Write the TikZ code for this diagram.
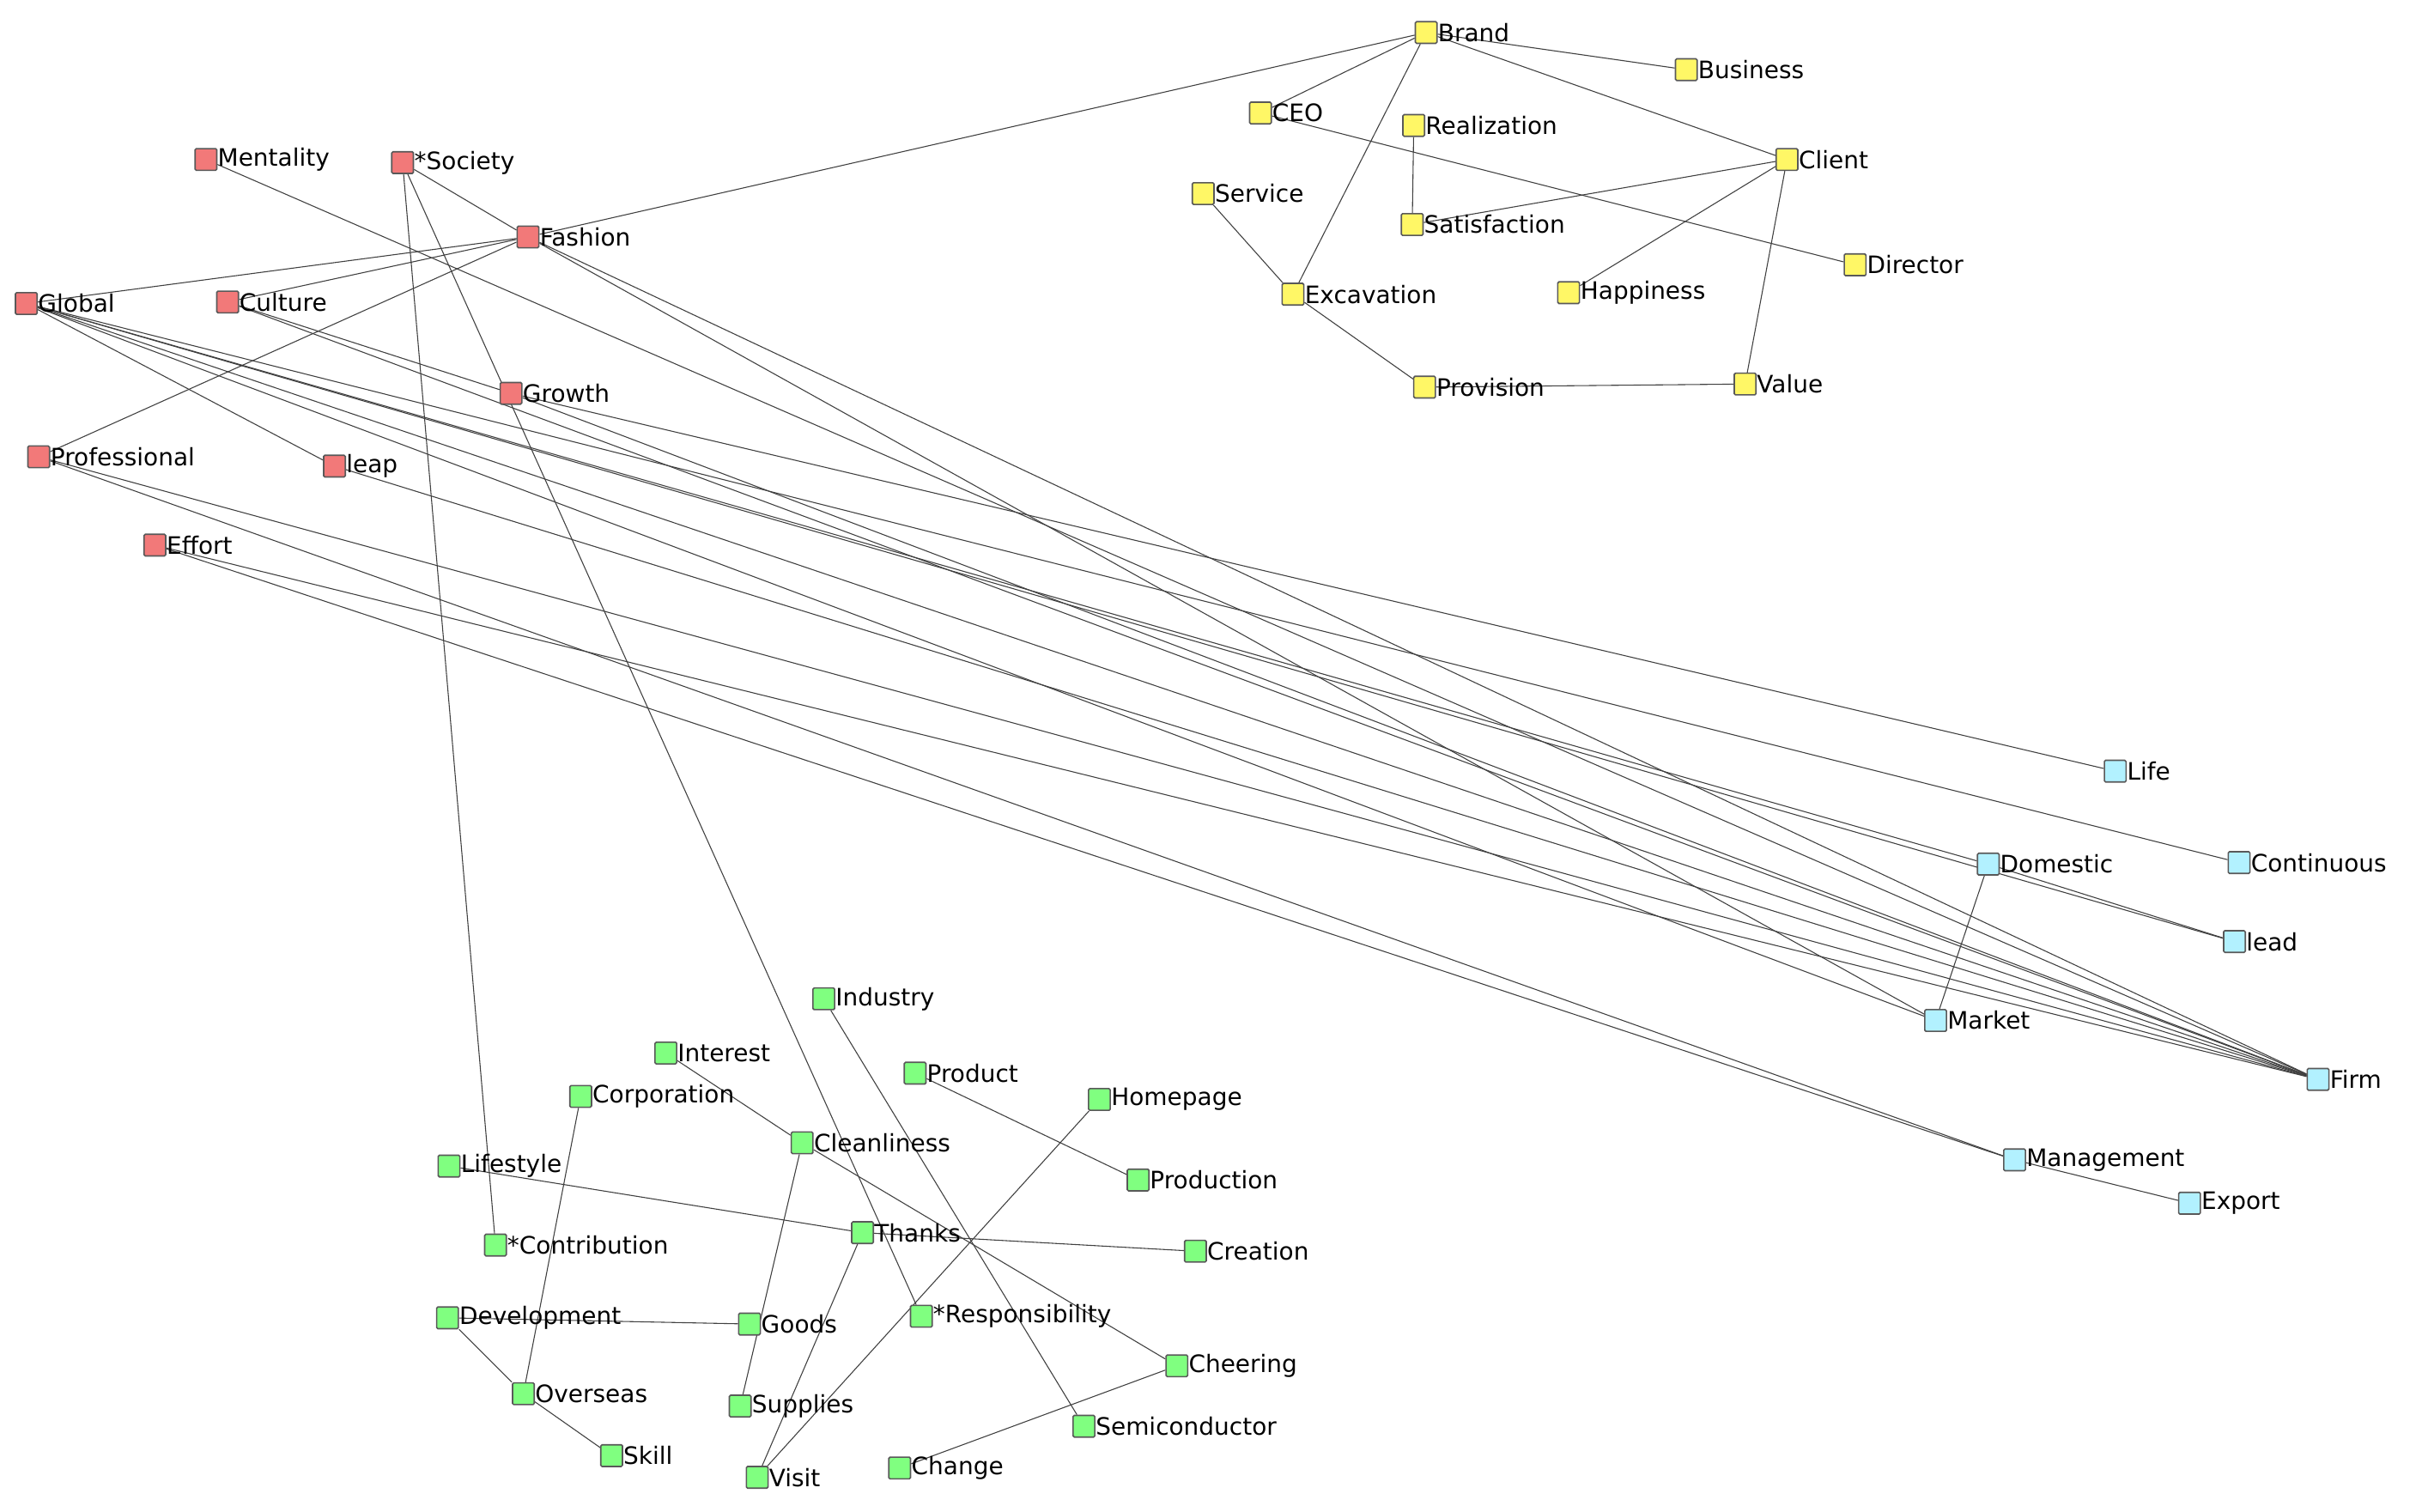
\documentclass[tikz,border=0pt]{standalone}
\usepackage{fontspec}
\setmainfont{DejaVu Sans}
\usetikzlibrary{backgrounds}
\begin{document}
\begin{tikzpicture}[x=1pt,y=-1pt,
  sq/.style={draw=black!65,line width=0.9pt,minimum size=14pt,inner sep=0pt,rounded corners=0.8pt},
  lab/.style={label={[anchor=west,inner sep=1pt,font=\fontsize{15.5}{17}\selectfont,xshift=-1pt]east:#1}},
  R/.style={sq,fill=red!50!white!95!black,lab=#1},
  Y/.style={sq,fill=yellow!60!white,lab=#1},
  B/.style={sq,fill=blue!30!cyan!20!white!95!black,fill=blue!18!cyan!30!white,lab=#1},
  G/.style={sq,fill=green!50!white,lab=#1},
  e/.style={draw=black!75,line width=0.6pt}]
\useasboundingbox (0,0) rectangle (1568,976);
% yellow
\node[Y=Brand] (brand) at (921,21) {};
\node[Y=Business] (business) at (1089,45) {};
\node[Y=CEO] (ceo) at (814,73) {};
\node[Y=Realization] (real) at (913,81) {};
\node[Y=Client] (client) at (1154,103) {};
\node[Y=Service] (service) at (777,125) {};
\node[Y=Satisfaction] (satis) at (912,145) {};
\node[Y=Director] (director) at (1198,171) {};
\node[Y=Excavation] (excav) at (835,190) {};
\node[Y=Happiness] (happy) at (1013,189) {};
\node[Y=Provision] (prov) at (920,250) {};
\node[Y=Value] (value) at (1127,248) {};
% red
\node[R=Mentality] (mental) at (133,103) {};
\node[R=*Society] (society) at (260,105) {};
\node[R=Fashion] (fashion) at (341,153) {};
\node[R=Global] (global) at (17,196) {};
\node[R=Culture] (culture) at (147,195) {};
\node[R=Growth] (growth) at (330,254) {};
\node[R=Professional] (prof) at (25,295) {};
\node[R=leap] (leap) at (216,301) {};
\node[R=Effort] (effort) at (100,352) {};
% blue
\node[B=Life] (life) at (1366,498) {};
\node[B=Domestic] (domestic) at (1284,558) {};
\node[B=Continuous] (cont) at (1446,557) {};
\node[B=lead] (lead) at (1443,608) {};
\node[B=Market] (market) at (1250,659) {};
\node[B=Firm] (firm) at (1497,697) {};
\node[B=Management] (manage) at (1301,749) {};
\node[B=Export] (export) at (1414,777) {};
% green
\node[G=Industry] (industry) at (532,645) {};
\node[G=Interest] (interest) at (430,680) {};
\node[G=Corporation] (corp) at (375,708) {};
\node[G=Cleanliness] (clean) at (518,738) {};
\node[G=Product] (product) at (591,693) {};
\node[G=Homepage] (home) at (710,710) {};
\node[G=Lifestyle] (lifestyle) at (290,753) {};
\node[G=Production] (production) at (735,762) {};
\node[G=Thanks] (thanks) at (557,796) {};
\node[G=*Contribution] (contrib) at (320,804) {};
\node[G=Creation] (creation) at (772,808) {};
\node[G=Development] (devel) at (289,851) {};
\node[G=Goods] (goods) at (484,855) {};
\node[G=*Responsibility] (resp) at (595,850) {};
\node[G=Cheering] (cheer) at (760,882) {};
\node[G=Overseas] (overseas) at (338,900) {};
\node[G=Supplies] (supplies) at (478,908) {};
\node[G=Semiconductor] (semi) at (700,921) {};
\node[G=Skill] (skill) at (395,940) {};
\node[G=Visit] (visit) at (489,954) {};
\node[G=Change] (change) at (581,948) {};
\begin{scope}[on background layer]
\foreach \a/\b in {brand/fashion,brand/ceo,brand/excav,brand/client,brand/business,ceo/director,real/satis,client/satis,client/happy,client/value,service/excav,excav/prov,prov/value,
society/fashion,fashion/global,fashion/culture,fashion/prof,society/contrib,society/resp,
fashion/firm,fashion/market,mental/firm,global/leap,global/domestic,global/firm,global/market,global/lead,global/cont,culture/growth,culture/firm,growth/life,growth/firm,leap/firm,prof/manage,prof/firm,effort/manage,effort/firm,
domestic/market,domestic/lead,manage/export,
industry/semi,interest/clean,corp/overseas,lifestyle/thanks,thanks/creation,clean/cheer,clean/supplies,product/production,home/visit,visit/thanks,devel/goods,devel/overseas,overseas/skill,change/cheer}
  \draw[e] (\a) -- (\b);
\end{scope}
\end{tikzpicture}
\end{document}
